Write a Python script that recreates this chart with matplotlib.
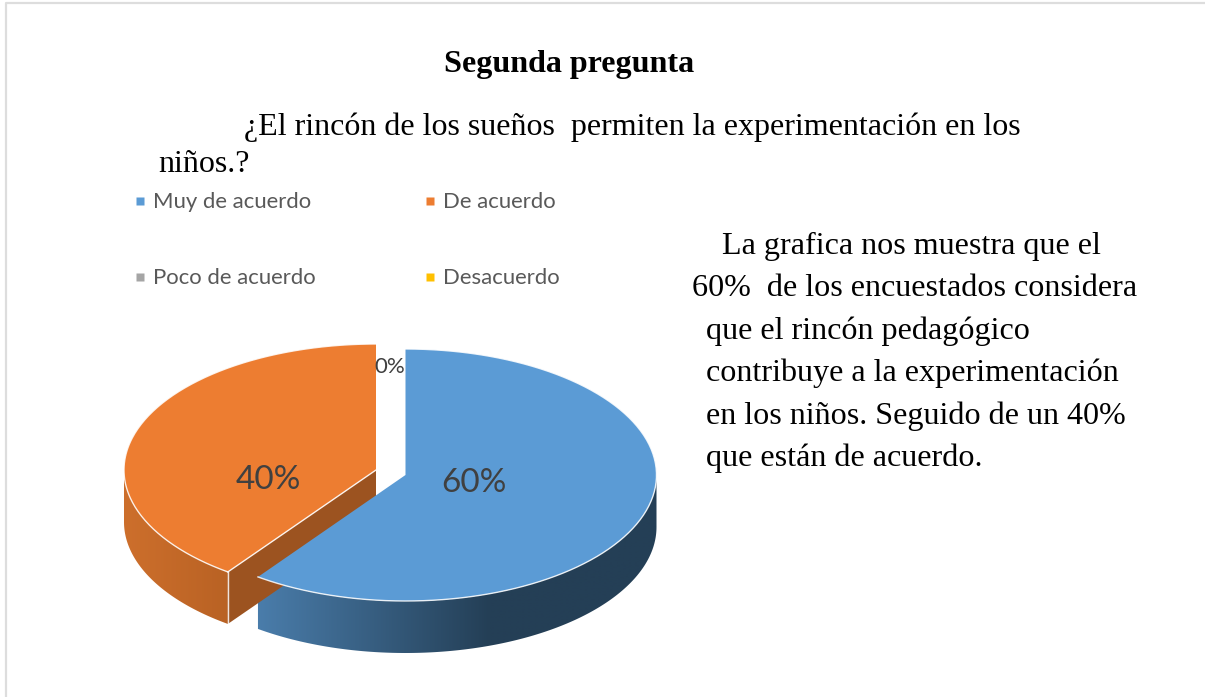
import numpy as np
from matplotlib import pyplot as plt
from matplotlib.colors import to_rgb
from matplotlib.patches import Polygon

# datos del grafico
categories = ['Muy de acuerdo', 'De acuerdo', 'Poco de acuerdo', 'Desacuerdo']
values = [60, 40, 0, 0]
colors = ['#5B9BD5', '#ED7D31', '#A5A5A5', '#FFC000']
title = 'Segunda pregunta'
question = ['¿El rincón de los sueños  permiten la experimentación en los', 'niños.?']
comment = ['La grafica nos muestra que el',
           '60%  de los encuestados considera',
           'que el rincón pedagógico',
           'contribuye a la experimentación',
           'en los niños. Seguido de un 40%',
           'que están de acuerdo.']

W = 1205
H = 697
RX = 251
RY = 126
DEPTH = 52
serif = 'Liberation Serif'
sans = 'Lato'

fig = plt.figure(figsize=(W / 100, H / 100), dpi=100)
ax = fig.add_axes([0, 0, 1, 1])
ax.axis('off')

# marco de la pagina
ax.plot([6, 6, W], [H, 3, 3], color='#DDDDDD', lw=1.6)


def point(cx, cy, a, rx=RX):
    # a en grados, en sentido horario desde arriba
    r = np.radians(a)
    return cx + rx * np.sin(r), cy - RY * np.cos(r)


def side(cx, cy, a1, a2, c1, c2, x1, x2, rx=RX):
    # pared lateral con degradado horizontal, x1 y x2 son los extremos del degradado
    ang = np.linspace(a1, a2, 200)
    x, y = point(cx, cy, ang, rx)
    verts = np.c_[np.r_[x, x[::-1]], np.r_[y, y[::-1] + DEPTH]]
    xs = np.arange(int(x.min()) - 2, int(x.max()) + 3)
    t = np.clip((xs - x1) / (x2 - x1), 0, 1)[:, None]
    grad = (np.array(to_rgb(c1)) * (1 - t) + np.array(to_rgb(c2)) * t)[None, :, :]
    im = ax.imshow(grad, extent=[xs[0], xs[-1], y.max() + DEPTH + 2, y.min() - 2],
                   aspect='auto', interpolation='bilinear', zorder=2)
    im.set_clip_path(Polygon(verts, transform=ax.transData))


def top(cx, cy, a1, a2, color, z, rx=RX):
    ang = np.linspace(a1, a2, 200)
    x, y = point(cx, cy, ang, rx)
    ax.fill(np.r_[cx, x], np.r_[cy, y], color=color, ec='none', zorder=z)
    ax.plot(x, y, color='white', lw=1.0, alpha=0.85, zorder=z + 0.1)


end_blue = values[0] / sum(values) * 360

# porcion naranja, separada hacia la izquierda
ox, oy = 376, 470
ex, ey = point(ox, oy, end_blue, 252)
ax.fill([ox, ex, ex, ox], [oy, ey, ey + DEPTH, oy + DEPTH], color='#9C5320', ec='none', zorder=2.5)
side(ox, oy, end_blue, 270, '#CD6F2C', '#B96224', 124, 228, 252)
ax.plot([ex, ex], [ey, ey + DEPTH], color='white', lw=1.0, alpha=0.85, zorder=3)
top(ox, oy, end_blue, 360, colors[1], 3, 252)
ax.plot([ox, ex], [oy, ey], color='white', lw=1.0, alpha=0.9, zorder=3.2)

# porcion azul
bx, by = 405.5, 475
side(bx, by, 90, end_blue, '#4A7DAB', '#243F56', 257, 490)
top(bx, by, 0, end_blue, colors[0], 4)

ax.set_xlim(0, W)
ax.set_ylim(H, 0)

# etiquetas de datos
label_pos = [(474, 483, 24), (268, 480, 24), (390, 367, 16)]
for v, (x, y, s) in zip(values, label_pos):
    ax.text(x, y, f'{v}%', fontsize=s, family=sans, color='#404040', ha='center', va='center', zorder=6)

# leyenda
legend_x = [140, 430]
legend_y = [201, 277]
for i, name in enumerate(categories):
    lx = legend_x[i % 2]
    ly = legend_y[i // 2]
    ax.plot(lx, ly, 's', ms=5.8, color=colors[i], mec='none')
    ax.text(lx + 13, ly + 0.5, name, fontsize=15.9, family=sans, color='#595959', va='center')

# textos
ax.text(569, 72, title, fontsize=23.1, family=serif, weight='bold', color='black', ha='center', va='baseline')
ax.text(244, 135, question[0], fontsize=23.0, family=serif, color='black', va='baseline')
ax.text(158, 172, question[1], fontsize=23.0, family=serif, color='black', va='baseline')
line_x = [722, 692, 706, 706, 706, 706]
for i, line in enumerate(comment):
    ax.text(line_x[i], 254 + i * 42.4, line, fontsize=23.1, family=serif, color='black', va='baseline')

fig.savefig('out.png', dpi=100)
